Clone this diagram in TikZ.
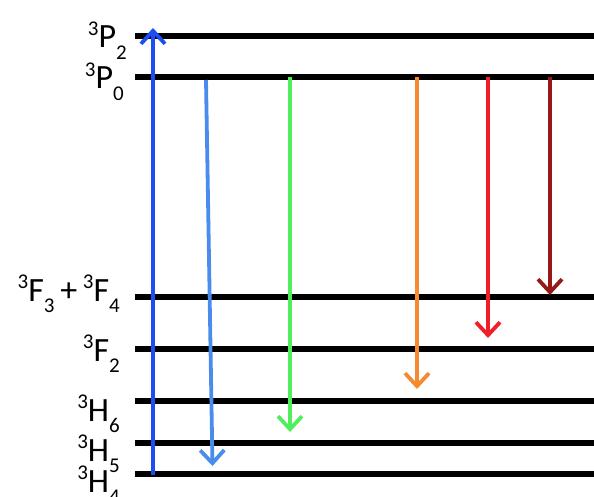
\documentclass[tikz,border=0pt]{standalone}
\usepackage{fontspec}
\setmainfont{Carlito}
\usetikzlibrary{arrows.meta}
\definecolor{cblue}{RGB}{28,78,240}
\definecolor{clblue}{RGB}{74,140,238}
\definecolor{cgreen}{RGB}{80,238,90}
\definecolor{corange}{RGB}{245,138,48}
\definecolor{cred}{RGB}{240,30,40}
\definecolor{cdred}{RGB}{150,25,25}
\newcommand{\lvlab}[2]{\raisebox{0.38em}{\fontsize{21}{21}\selectfont 3}#1\raisebox{-0.34em}{\fontsize{21}{21}\selectfont #2}}
\begin{document}
\begin{tikzpicture}[x=1pt,y=-1pt,
  level/.style={line width=6pt},
  trans/.style={line width=3.8pt,-{Straight Barb[length=13pt,width=24pt,line width=3.8pt]}},
  lab/.style={anchor=base east,inner sep=0pt,font=\fontsize{34}{34}\selectfont}]
\useasboundingbox (0,0) rectangle (594,497);
% levels
\foreach \n/\y in {P2/36,P0/77,F34/297,F2/349,H6/401,H5/443,H4/474}{
  \coordinate (\n-l) at (135,\y);
  \coordinate (\n-r) at (594,\y);
  \draw[level] (\n-l) -- (\n-r);
}
% labels
\node[lab] (lP2) at (127,48) {\lvlab{P}{2}};
\node[lab] (lP0) at (124,89) {\lvlab{P}{0}};
\node[lab] (lF34) at (120,301) {\lvlab{F}{3}\,+\,\lvlab{F}{4}};
\node[lab] (lF2) at (120,361) {\lvlab{F}{2}};
\node[lab] (lH6) at (120,421) {\lvlab{H}{6}};
\node[lab] (lH5) at (120,461) {\lvlab{H}{5}};
\node[lab] (lH4) at (120,492) {\lvlab{H}{4}};
% arrow end points
\coordinate (b0) at (153,475);
\coordinate (b1) at (153,28);
\coordinate (lb0) at (206,80);
\coordinate (lb1) at (212.5,466);
\coordinate (g0) at (290,77);
\coordinate (g1) at (290,432);
\coordinate (o0) at (417,77);
\coordinate (o1) at (417,389);
\coordinate (r0) at (488,77);
\coordinate (r1) at (488,338);
\coordinate (d0) at (550,77);
\coordinate (d1) at (550,295);
\draw[trans,cblue] (b0) -- (b1);
\draw[trans,clblue] (lb0) -- (lb1);
\draw[trans,cgreen] (g0) -- (g1);
\draw[trans,corange] (o0) -- (o1);
\draw[trans,cred] (r0) -- (r1);
\draw[trans,cdred] (d0) -- (d1);
\end{tikzpicture}
\end{document}
